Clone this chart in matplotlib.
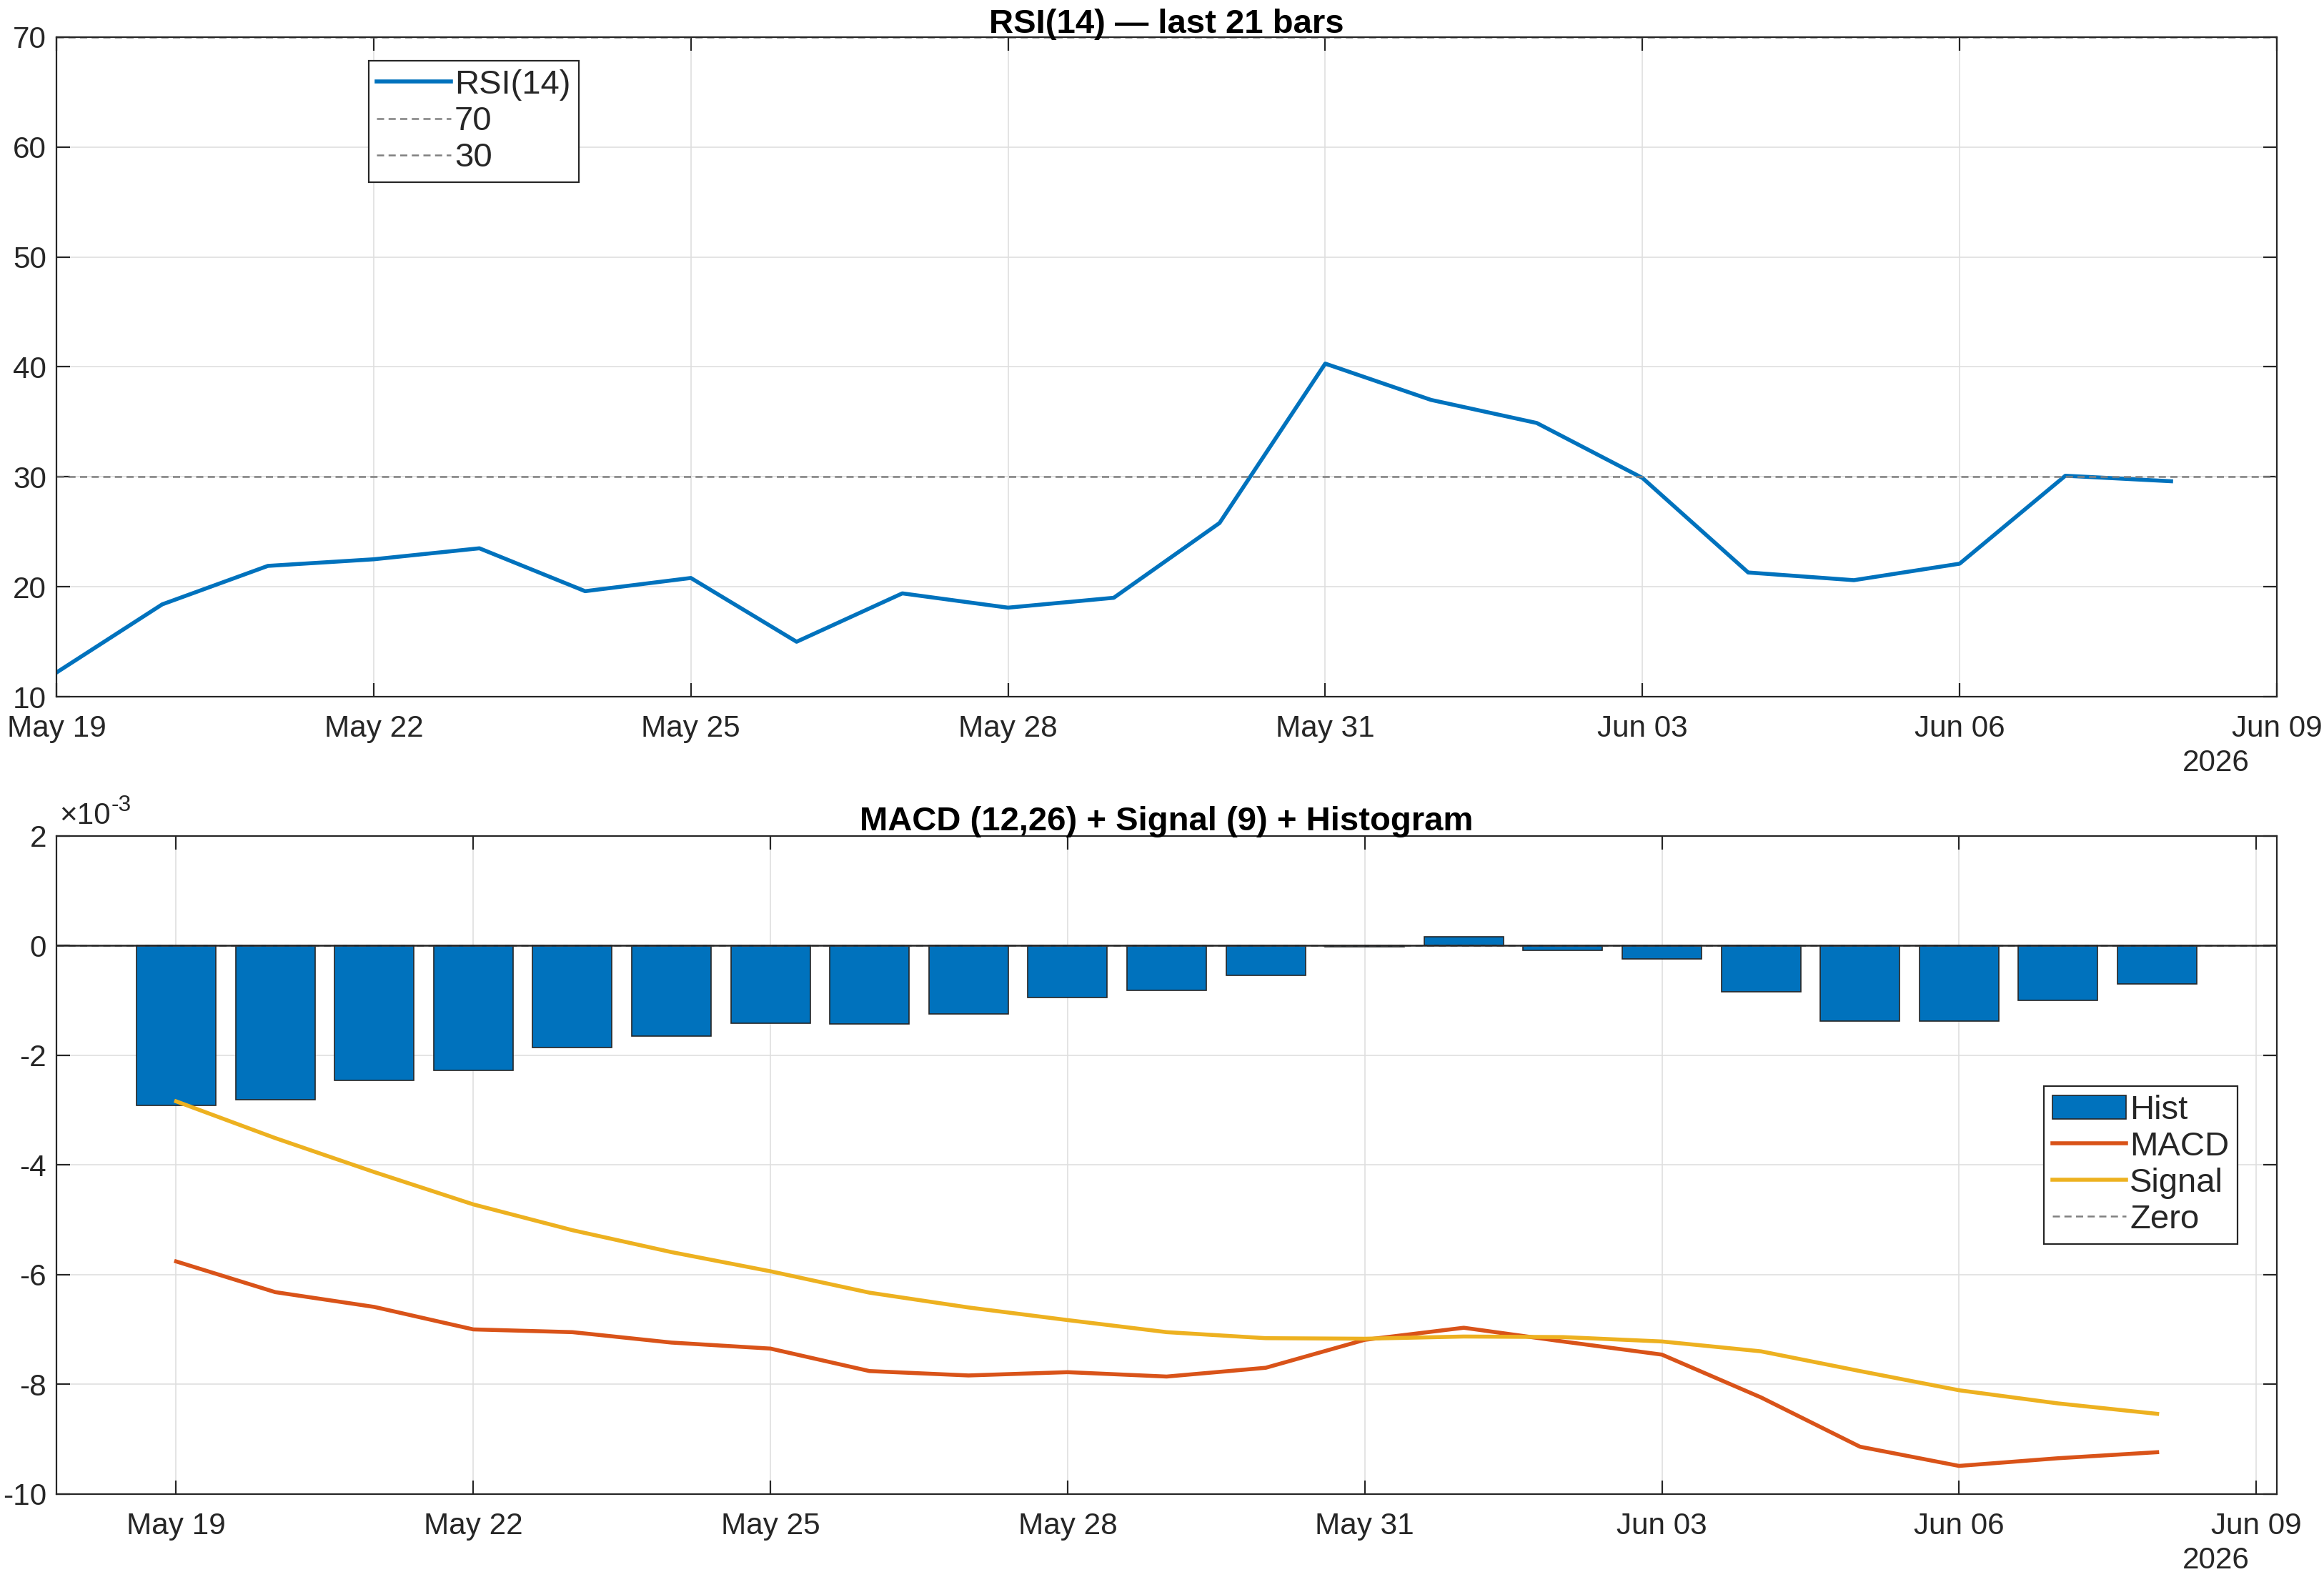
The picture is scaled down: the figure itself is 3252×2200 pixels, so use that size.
import numpy as np
import pandas as pd
import matplotlib
matplotlib.use("Agg")
import matplotlib.pyplot as plt
import matplotlib.dates as mdates
from matplotlib.ticker import FixedLocator, FuncFormatter

plt.rcParams['font.family'] = ['Liberation Sans', 'DejaVu Sans']
plt.rcParams['axes.unicode_minus'] = False

# data
dates = pd.date_range('2026-05-19', '2026-06-08', freq='D')
rsi = [12.2, 18.4, 21.9, 22.5, 23.5, 19.6, 20.8, 15.0, 19.4, 18.1, 19.0,
       25.8, 40.3, 37.0, 34.9, 29.9, 21.3, 20.6, 22.1, 30.1, 29.6]
hist_e3 = [-2.92, -2.81, -2.46, -2.27, -1.86, -1.65, -1.41, -1.43, -1.24, -0.95, -0.81,
           -0.54, -0.02, 0.16, -0.08, -0.24, -0.84, -1.38, -1.38, -1.00, -0.70]
macd_e3 = [-5.76, -6.32, -6.59, -7.00, -7.05, -7.24, -7.35, -7.76, -7.84, -7.78, -7.86,
           -7.70, -7.19, -6.97, -7.22, -7.46, -8.24, -9.14, -9.49, -9.35, -9.24]
signal_e3 = [-2.84, -3.51, -4.13, -4.72, -5.19, -5.59, -5.94, -6.33, -6.60, -6.83, -7.05,
             -7.16, -7.17, -7.13, -7.14, -7.22, -7.40, -7.76, -8.11, -8.35, -8.54]
hist = np.array(hist_e3) * 1e-3
macd = np.array(macd_e3) * 1e-3
signal = np.array(signal_e3) * 1e-3

blue = '#0072BD'
orange = '#D95319'
yellow = '#EDB120'
dark = '#262626'
gray = '#808080'
FS = 15.2
LFS = 17

tick_dates = pd.to_datetime(['2026-05-19', '2026-05-22', '2026-05-25', '2026-05-28',
                             '2026-05-31', '2026-06-03', '2026-06-06', '2026-06-09'])

fig = plt.figure(figsize=(16.26, 11), dpi=200)
ax1 = fig.add_axes([0.0243, 0.5568, 0.9554, 0.4196])
ax2 = fig.add_axes([0.0243, 0.0497, 0.9554, 0.4185])

def style(ax):
    for s in ax.spines.values():
        s.set_color(dark)
        s.set_linewidth(0.8)
    ax.tick_params(direction='in', length=7, width=0.8, color=dark, labelcolor=dark,
                   labelsize=FS, top=True, right=True)
    ax.tick_params(axis='x', pad=9)
    ax.tick_params(axis='y', pad=5)
    ax.grid(True, color='#dfdfdf', linewidth=0.6)
    ax.set_axisbelow(True)
    ax.xaxis.set_major_locator(FixedLocator(mdates.date2num(tick_dates)))
    ax.xaxis.set_major_formatter(mdates.DateFormatter('%b %d'))
    ax.annotate('2026', xy=(0.9727, 0), xycoords='axes fraction', xytext=(0, -33.5),
                textcoords='offset points', ha='center', va='center', fontsize=FS, color=dark)

def legend(ax, x, y, handles, labels):
    lg = ax.legend(handles, labels, loc='upper left', bbox_to_anchor=(x, y), borderaxespad=0,
                   fontsize=LFS, fancybox=False, framealpha=1, edgecolor=dark,
                   handlelength=2.2, handletextpad=0.1, labelspacing=0.15, borderpad=0.25)
    lg.get_frame().set_linewidth(0.8)
    for t in lg.get_texts():
        t.set_color(dark)

# RSI panel
l_rsi, = ax1.plot(dates, rsi, color=blue, lw=2.0)
l_70 = ax1.axhline(70, color=gray, lw=0.9, dashes=(4, 2.5))
l_30 = ax1.axhline(30, color=gray, lw=0.9, dashes=(4, 2.5))
ax1.set_xlim(pd.Timestamp('2026-05-19'), pd.Timestamp('2026-06-09'))
ax1.set_ylim(10, 70)
ax1.set_yticks(range(10, 71, 10))
style(ax1)
ax1.set_title('RSI(14) \u2014 last 21 bars', fontsize=17, fontweight='bold', color='black', pad=2)
legend(ax1, 0.1405, 0.964, [l_rsi, l_70, l_30], ['RSI(14)', '70', '30'])

# MACD panel
b_hist = ax2.bar(dates, hist, width=0.8, color=blue, edgecolor=dark, linewidth=0.6, zorder=2)
l_macd, = ax2.plot(dates, macd, color=orange, lw=2.0, zorder=4)
l_sig, = ax2.plot(dates, signal, color=yellow, lw=2.0, zorder=4)
l_zero = ax2.axhline(0, color=gray, lw=0.9, dashes=(4, 2.5), zorder=3)
ax2.axhline(0, color=dark, lw=0.9, zorder=3.5)
ax2.set_xlim(pd.Timestamp('2026-05-19') - pd.Timedelta(hours=29),
             pd.Timestamp('2026-06-08') + pd.Timedelta(hours=29))
ax2.set_ylim(-10e-3, 2e-3)
ax2.set_yticks(np.arange(-10, 3, 2) * 1e-3)
ax2.yaxis.set_major_formatter(FuncFormatter(lambda v, p: '%g' % round(v * 1e3, 6)))
style(ax2)
ax2.annotate('\u00d710', xy=(0, 1), xycoords='axes fraction', xytext=(1.5, 3),
             textcoords='offset points', ha='left', va='bottom', fontsize=FS, color=dark)
ax2.annotate('-3', xy=(0, 1), xycoords='axes fraction', xytext=(27.5, 10),
             textcoords='offset points', ha='left', va='bottom', fontsize=FS * 0.75, color=dark)
ax2.set_title('MACD (12,26) + Signal (9) + Histogram', fontsize=17, fontweight='bold',
              color='black', pad=3)
legend(ax2, 0.895, 0.62, [b_hist, l_macd, l_sig, l_zero], ['Hist', 'MACD', 'Signal', 'Zero'])

fig.savefig('out.png', dpi=200)
